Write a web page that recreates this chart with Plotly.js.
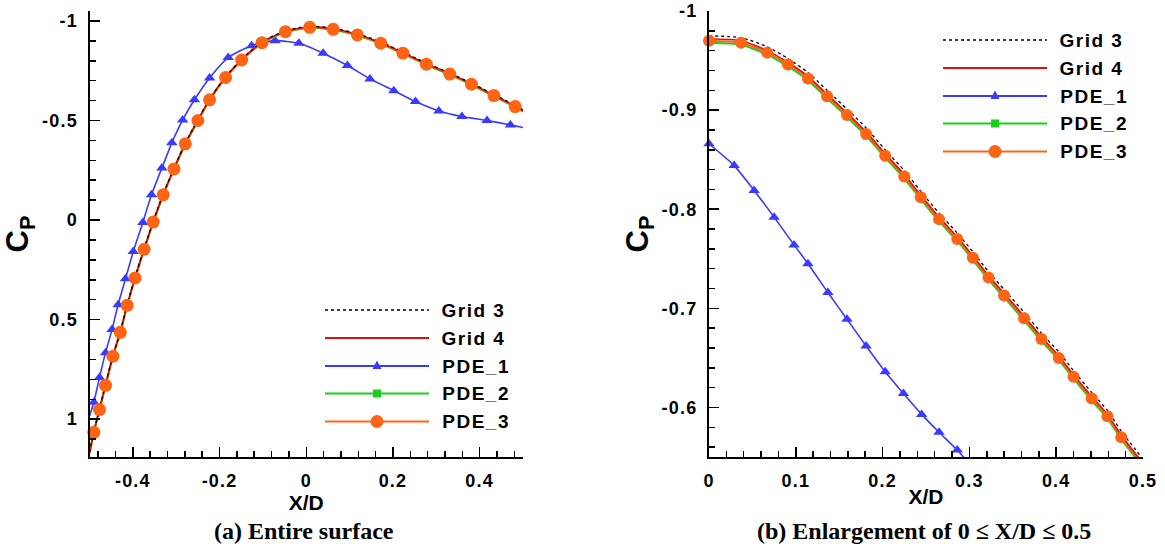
<!DOCTYPE html>
<html>
<head>
<meta charset="utf-8">
<script src="https://cdn.plot.ly/plotly-3.0.1.min.js"></script>
<style>
  html, body { margin: 0; padding: 0; background: #fff; }
  #chart { width: 1165px; height: 550px; }
  .xtick text, .ytick text, .x2tick text, .y2tick text { letter-spacing: 1.2px; }
  .annotation[data-index="0"] text, .annotation[data-index="1"] text,
  .annotation[data-index="2"] text, .annotation[data-index="3"] text,
  .annotation[data-index="4"] text, .annotation[data-index="5"] text,
  .annotation[data-index="6"] text, .annotation[data-index="7"] text,
  .annotation[data-index="8"] text, .annotation[data-index="9"] text { letter-spacing: 1.5px; }
</style>
</head>
<body>
<div id="chart"></div>
<script>
// ---------------- DATA ----------------
const SERIES_NAMES = ['Grid 3', 'Grid 4', 'PDE_1', 'PDE_2', 'PDE_3'];

// (a) Entire surface
const LEFT_X = [-0.500, -0.490, -0.477, -0.463, -0.446, -0.429, -0.413, -0.395, -0.374, -0.353, -0.330, -0.305, -0.279, -0.250, -0.223, -0.186, -0.149, -0.102, -0.048, 0.008, 0.062, 0.118, 0.172, 0.223, 0.277, 0.331, 0.381, 0.433, 0.482, 0.500];
const LEFT_GRID3 = [1.166, 1.062, 0.948, 0.826, 0.680, 0.560, 0.424, 0.287, 0.143, 0.006, -0.131, -0.261, -0.387, -0.504, -0.608, -0.720, -0.808, -0.895, -0.951, -0.974, -0.964, -0.936, -0.894, -0.844, -0.789, -0.739, -0.688, -0.631, -0.576, -0.553];
const LEFT_GRID4 = [1.168, 1.064, 0.950, 0.828, 0.682, 0.562, 0.426, 0.289, 0.145, 0.008, -0.129, -0.259, -0.385, -0.502, -0.606, -0.718, -0.806, -0.893, -0.948, -0.970, -0.960, -0.932, -0.890, -0.840, -0.785, -0.735, -0.684, -0.627, -0.572, -0.550];
const LEFT_PDE2 = [1.172, 1.068, 0.954, 0.832, 0.686, 0.566, 0.430, 0.293, 0.149, 0.012, -0.125, -0.255, -0.381, -0.498, -0.602, -0.714, -0.802, -0.889, -0.944, -0.966, -0.956, -0.927, -0.885, -0.835, -0.780, -0.730, -0.679, -0.622, -0.567, -0.545];
const LEFT_PDE3 = [1.170, 1.066, 0.952, 0.830, 0.684, 0.564, 0.428, 0.291, 0.147, 0.010, -0.127, -0.257, -0.383, -0.500, -0.604, -0.716, -0.804, -0.891, -0.946, -0.968, -0.958, -0.930, -0.888, -0.838, -0.783, -0.733, -0.682, -0.625, -0.570, -0.548];
const LEFT_PDE1_X = [-0.500, -0.490, -0.477, -0.463, -0.448, -0.434, -0.417, -0.399, -0.377, -0.357, -0.333, -0.310, -0.285, -0.258, -0.223, -0.180, -0.126, -0.072, -0.017, 0.039, 0.095, 0.147, 0.202, 0.252, 0.306, 0.359, 0.417, 0.471, 0.500];
const LEFT_PDE1 = [0.985, 0.915, 0.791, 0.666, 0.550, 0.425, 0.295, 0.158, 0.012, -0.127, -0.262, -0.388, -0.503, -0.604, -0.714, -0.816, -0.876, -0.901, -0.888, -0.838, -0.776, -0.709, -0.650, -0.595, -0.548, -0.520, -0.500, -0.478, -0.465];

// (b) Enlargement of 0 <= X/D <= 0.5
const RIGHT_X = [0.000, 0.037, 0.067, 0.091, 0.114, 0.136, 0.159, 0.181, 0.203, 0.225, 0.244, 0.265, 0.286, 0.304, 0.322, 0.340, 0.363, 0.383, 0.403, 0.420, 0.441, 0.459, 0.475, 0.498];
const RIGHT_GRID3 = [-0.975, -0.973, -0.964, -0.952, -0.938, -0.920, -0.901, -0.882, -0.860, -0.839, -0.818, -0.796, -0.776, -0.757, -0.737, -0.719, -0.696, -0.675, -0.656, -0.637, -0.615, -0.597, -0.576, -0.550];
const RIGHT_GRID4 = [-0.972, -0.970, -0.960, -0.948, -0.934, -0.916, -0.897, -0.878, -0.856, -0.835, -0.814, -0.792, -0.772, -0.753, -0.733, -0.715, -0.692, -0.671, -0.652, -0.633, -0.611, -0.593, -0.572, -0.546];
const RIGHT_PDE2 = [-0.968, -0.966, -0.956, -0.944, -0.930, -0.912, -0.893, -0.874, -0.852, -0.831, -0.810, -0.788, -0.768, -0.749, -0.729, -0.711, -0.688, -0.667, -0.648, -0.629, -0.607, -0.589, -0.568, -0.542];
const RIGHT_PDE3 = [-0.970, -0.968, -0.958, -0.946, -0.932, -0.914, -0.895, -0.876, -0.854, -0.833, -0.812, -0.790, -0.770, -0.751, -0.731, -0.713, -0.690, -0.669, -0.650, -0.631, -0.609, -0.591, -0.570, -0.544];
const RIGHT_PDE1_X = [0.000, 0.029, 0.052, 0.075, 0.098, 0.114, 0.137, 0.159, 0.181, 0.203, 0.224, 0.245, 0.265, 0.286, 0.296];
const RIGHT_PDE1 = [-0.866, -0.844, -0.819, -0.792, -0.764, -0.745, -0.716, -0.689, -0.662, -0.636, -0.614, -0.593, -0.575, -0.557, -0.547];

// Tick values / labels
const LEFT_XTICKS = [-0.4, -0.2, 0, 0.2, 0.4];
const LEFT_XLABELS = ['-0.4', '-0.2', '0', '0.2', '0.4'];
const LEFT_YTICKS = [-1, -0.5, 0, 0.5, 1];
const LEFT_YLABELS = ['-1', '-0.5', '0', '0.5', '1'];
const RIGHT_XTICKS = [0, 0.1, 0.2, 0.3, 0.4, 0.5];
const RIGHT_XLABELS = ['0', '0.1', '0.2', '0.3', '0.4', '0.5'];
const RIGHT_YTICKS = [-1, -0.9, -0.8, -0.7, -0.6];
const RIGHT_YLABELS = ['-1', '-0.9', '-0.8', '-0.7', '-0.6'];

const CAPTION_A = '(a) Entire surface';
const CAPTION_B = '(b) Enlargement of 0 \u2264 X/D \u2264 0.5';

// ---------------- STYLE ----------------
const W = 1165, H = 550;
const px = v => v / W;
const py = v => 1 - v / H;

const C_BLACK = '#000000', C_RED = '#e01010', C_BLUE = '#3a3aff', C_GREEN = '#18d018', C_ORANGE = '#ff6414';
const SANS = 'Liberation Sans, Arial, Helvetica, sans-serif';
const SERIF = 'Liberation Serif, Times New Roman, serif';

function sizes(n, s, skipFirst, skipLast) {
  const a = new Array(n).fill(s);
  if (skipFirst) a[0] = 0;
  if (skipLast) a[n - 1] = 0;
  return a;
}

function lineTrace(x, y, color, width, dash, xa, ya, name) {
  return { type: 'scatter', mode: 'lines', x: x, y: y, xaxis: xa, yaxis: ya, name: name,
    line: { color: color, width: width, dash: dash, shape: 'spline', smoothing: 0.6 },
    showlegend: false, hoverinfo: 'skip' };
}
function markerTrace(x, y, color, symbol, sz, xa, ya, name) {
  return { type: 'scatter', mode: 'markers', x: x, y: y, xaxis: xa, yaxis: ya, name: name,
    marker: { color: color, symbol: symbol, size: sz, opacity: 1, line: { width: 0 } },
    cliponaxis: false, showlegend: false, hoverinfo: 'skip' };
}

const traces = [
  // left
  lineTrace(LEFT_PDE1_X, LEFT_PDE1, C_BLUE, 1.6, 'solid', 'x', 'y', 'PDE_1'),
  markerTrace(LEFT_PDE1_X, LEFT_PDE1, C_BLUE, 'triangle-up', sizes(LEFT_PDE1_X.length, 10, true, true), 'x', 'y', 'PDE_1'),
  lineTrace(LEFT_X, LEFT_PDE2, C_GREEN, 2, 'solid', 'x', 'y', 'PDE_2'),
  lineTrace(LEFT_X, LEFT_PDE3, C_ORANGE, 2, 'solid', 'x', 'y', 'PDE_3'),
  lineTrace(LEFT_X, LEFT_GRID4, C_RED, 1.6, 'solid', 'x', 'y', 'Grid 4'),
  lineTrace(LEFT_X, LEFT_GRID3, C_BLACK, 1.3, '3px,3px', 'x', 'y', 'Grid 3'),
  markerTrace(LEFT_X, LEFT_PDE3, C_ORANGE, 'circle', sizes(LEFT_X.length, 13, true, true), 'x', 'y', 'PDE_3'),
  // right
  lineTrace(RIGHT_PDE1_X, RIGHT_PDE1, C_BLUE, 1.6, 'solid', 'x2', 'y2', 'PDE_1'),
  markerTrace(RIGHT_PDE1_X, RIGHT_PDE1, C_BLUE, 'triangle-up', sizes(RIGHT_PDE1_X.length, 10, false, true), 'x2', 'y2', 'PDE_1'),
  lineTrace(RIGHT_X, RIGHT_PDE2, C_GREEN, 2, 'solid', 'x2', 'y2', 'PDE_2'),
  lineTrace(RIGHT_X, RIGHT_PDE3, C_ORANGE, 2, 'solid', 'x2', 'y2', 'PDE_3'),
  lineTrace(RIGHT_X, RIGHT_GRID4, C_RED, 1.6, 'solid', 'x2', 'y2', 'Grid 4'),
  lineTrace(RIGHT_X, RIGHT_GRID3, C_BLACK, 1.3, '3px,3px', 'x2', 'y2', 'Grid 3'),
  markerTrace(RIGHT_X, RIGHT_PDE3, C_ORANGE, 'circle', sizes(RIGHT_X.length, 12, false, true), 'x2', 'y2', 'PDE_3')
];

const tickFont = { family: SANS, size: 18, color: '#000', weight: 'bold' };
function axis(domain, range, tickvals, ticktext, minorDtick, anchor, titleObj) {
  return {
    domain: domain, range: range, anchor: anchor, autorange: false,
    showline: true, linecolor: '#000', linewidth: 2,
    showgrid: false, zeroline: false, mirror: false,
    ticks: 'inside', ticklen: 10, tickwidth: 1.5, tickcolor: '#000',
    tickmode: 'array', tickvals: tickvals, ticktext: ticktext,
    tickfont: tickFont, ticklabelstandoff: 6,
    minor: { ticks: 'inside', ticklen: 6, tickwidth: 1.5, tickcolor: '#000', tickmode: 'linear', tick0: 0, dtick: minorDtick, showgrid: false },
    automargin: false, fixedrange: true,
    title: titleObj
  };
}
const xTitle = { text: 'X/D', font: { family: SANS, size: 21, color: '#000', weight: 'bold' }, standoff: 0 };
const yTitle = { text: 'C<sub>P</sub>', font: { family: SANS, size: 31, color: '#000', weight: 'bold' }, standoff: 4 };

const ydom = [py(457), py(11)];

// legend (drawn as shapes + text)
const LEG_LEFT = { rows: [310, 338, 366, 393.5, 421.5], x0: 325, x1: 429, xm: 377, xt: 444 };
const LEG_RIGHT = { rows: [40, 68, 96, 123.5, 151.5], x0: 943, x1: 1047, xm: 995, xt: 1062 };
const LEG_STYLE = [
  { color: C_BLACK, dash: '3px,3px', width: 1.5, marker: null },
  { color: C_RED, dash: 'solid', width: 2, marker: null },
  { color: C_BLUE, dash: 'solid', width: 2, marker: 'tri' },
  { color: C_GREEN, dash: 'solid', width: 2, marker: 'sq' },
  { color: C_ORANGE, dash: 'solid', width: 2, marker: 'circ' }
];

const shapes = [];
const annotations = [];
[LEG_LEFT, LEG_RIGHT].forEach(L => {
  SERIES_NAMES.forEach((nm, i) => {
    const st = LEG_STYLE[i], yy = py(L.rows[i]);
    shapes.push({ type: 'line', xref: 'paper', yref: 'paper', x0: px(L.x0), x1: px(L.x1), y0: yy, y1: yy,
      line: { color: st.color, width: st.width, dash: st.dash } });
    if (st.marker === 'circ') {
      shapes.push({ type: 'circle', xref: 'paper', yref: 'paper', xsizemode: 'pixel', ysizemode: 'pixel',
        xanchor: px(L.xm), yanchor: yy, x0: -6.5, x1: 6.5, y0: -6.5, y1: 6.5,
        fillcolor: st.color, line: { width: 0 } });
    } else if (st.marker === 'sq') {
      shapes.push({ type: 'rect', xref: 'paper', yref: 'paper', xsizemode: 'pixel', ysizemode: 'pixel',
        xanchor: px(L.xm), yanchor: yy, x0: -4, x1: 4, y0: -4, y1: 4,
        fillcolor: st.color, line: { width: 0 } });
    } else if (st.marker === 'tri') {
      shapes.push({ type: 'path', xref: 'paper', yref: 'paper', xsizemode: 'pixel', ysizemode: 'pixel',
        xanchor: px(L.xm), yanchor: yy, path: 'M-4.5,-3 L4.5,-3 L0,5.5 Z',
        fillcolor: st.color, line: { width: 0 } });
    }
    annotations.push({ xref: 'paper', yref: 'paper', x: px(L.xt), y: yy, xanchor: 'left', yanchor: 'middle',
      text: nm, showarrow: false, font: { family: SANS, size: 19, color: '#000', weight: 'bold' } });
  });
});
annotations.push({ xref: 'paper', yref: 'paper', x: px(304), y: py(531), xanchor: 'center', yanchor: 'middle',
  text: CAPTION_A, showarrow: false, font: { family: SERIF, size: 24, color: '#000', weight: 'bold' } });
annotations.push({ xref: 'paper', yref: 'paper', x: px(924), y: py(531), xanchor: 'center', yanchor: 'middle',
  text: CAPTION_B, showarrow: false, font: { family: SERIF, size: 24, color: '#000', weight: 'bold' } });

const layout = {
  width: W, height: H,
  margin: { l: 0, r: 0, t: 0, b: 0, pad: 0 },
  paper_bgcolor: '#fff', plot_bgcolor: '#fff',
  showlegend: false,
  xaxis: axis([px(89.5), px(523)], [-0.5, 0.5], LEFT_XTICKS, LEFT_XLABELS, 0.04, 'y', xTitle),
  yaxis: axis(ydom, [1.19, -1.05], LEFT_YTICKS, LEFT_YLABELS, 0.1, 'x', yTitle),
  xaxis2: axis([px(709), px(1143)], [0, 0.5], RIGHT_XTICKS, RIGHT_XLABELS, 0.02, 'y2', xTitle),
  yaxis2: axis(ydom, [-0.55, -1], RIGHT_YTICKS, RIGHT_YLABELS, 0.02, 'x2', yTitle),
  shapes: shapes,
  annotations: annotations
};

Plotly.newPlot('chart', traces, layout, { staticPlot: true, displayModeBar: false });
</script>
</body>
</html>
